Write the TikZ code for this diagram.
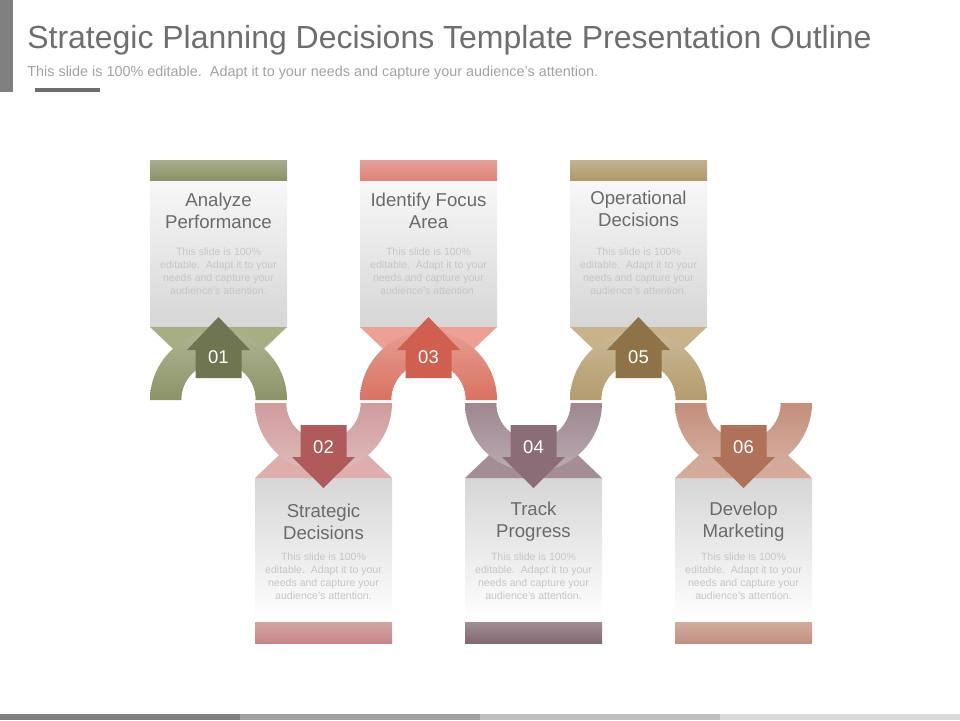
\documentclass[tikz,border=0pt]{standalone}
\usepackage{fontspec}
\setmainfont{Liberation Sans}
\usetikzlibrary{positioning}

\definecolor{titlegray}{HTML}{6E6E6E}
\definecolor{subgray}{HTML}{A2A2A2}
\definecolor{headgray}{HTML}{6A6A6A}
\definecolor{bodygray}{HTML}{C6C6C6}
\definecolor{boxgray}{HTML}{D6D6D6}
% step colours: bar, flap, arch, arrow
\definecolor{olvbar}{HTML}{8A9165}
\definecolor{olvflap}{HTML}{A9AF85}
\definecolor{olvarch}{HTML}{8C9366}
\definecolor{olvarrow}{HTML}{6F7550}
\definecolor{pnkbar}{HTML}{C68687}
\definecolor{pnkflap}{HTML}{DDAEAD}
\definecolor{pnkarch}{HTML}{D09C9C}
\definecolor{pnkarrow}{HTML}{B05B5B}
\definecolor{salbar}{HTML}{DE8276}
\definecolor{salflap}{HTML}{EDA194}
\definecolor{salarch}{HTML}{DA7262}
\definecolor{salarrow}{HTML}{CF604F}
\definecolor{mvebar}{HTML}{836872}
\definecolor{mveflap}{HTML}{A48D95}
\definecolor{mvearch}{HTML}{9E8790}
\definecolor{mvearrow}{HTML}{8A6D77}
\definecolor{tanbar}{HTML}{AE976A}
\definecolor{tanflap}{HTML}{C8B38C}
\definecolor{tanarch}{HTML}{B39B6B}
\definecolor{tanarrow}{HTML}{8D7347}
\definecolor{tercbar}{HTML}{C29080}
\definecolor{tercflap}{HTML}{D4AA9A}
\definecolor{tercarch}{HTML}{C38F7B}
\definecolor{tercarrow}{HTML}{AF7158}

\tikzset{
    slidetitle/.style={font=\fontsize{18.2}{20}\selectfont, text=titlegray, inner sep=0pt},
    slidesub/.style={font=\fontsize{8.2}{9}\selectfont, text=subgray, inner sep=0pt},
    heading/.style={font=\fontsize{10.6}{12.6}\selectfont, text=headgray, align=center, inner sep=0pt},
    bodytext/.style={font=\fontsize{6}{7.4}\selectfont, text=bodygray, align=center, inner sep=0pt},
    numlabel/.style={font=\fontsize{10.5}{12}\selectfont, text=white, inner sep=0pt}
}

\begin{document}
\begin{tikzpicture}[x=0.02cm, y=-0.02cm]
    \useasboundingbox (0,0) rectangle (960,720);

    %Title
    \fill[gray] (0,0) rectangle (13,92);
    \node[slidetitle, anchor=base west] (title) at (27,49) {Strategic Planning Decisions Template Presentation Outline};
    \node[slidesub, anchor=base west] (subtitle) at (27,76) {This slide is 100\% editable.\ \ Adapt it to your needs and capture your audience's attention.};
    \draw[titlegray, line width=2.5pt] (35,90) -- (100,90);

    %Upper steps
    \foreach \l/\c/\n/\head/\hy in {150/olv/01/{Analyze\\Performance}/211, 360/sal/03/{Identify Focus\\Area}/210.5, 570/tan/05/{Operational\\Decisions}/208.5}
    {
        \shade[top color=\c bar!75!white, bottom color=\c bar] (\l,160) rectangle (\l+137,181);
        \shade[top color=white!97!black, bottom color=boxgray] (\l,181) rectangle (\l+137,327);
        \shade[top color=\c flap, bottom color=\c flap!85!\c arch] (\l,327) -- (\l+137,327) -- (\l+68.5,392) -- cycle;
        \shade[top color=\c arch!70!white, bottom color=\c arch] (\l,400) arc[start angle=180, end angle=360, radius=68.5]
            -- (\l+105.5,400) arc[start angle=0, end angle=-180, radius=37] -- cycle;
        \fill[white] (\l+31.5,400) arc[start angle=180, end angle=360, radius=37] -- cycle;
        \fill[\c arrow] (\l+68.5,317) -- (\l+100,350) -- (\l+91.5,350) -- (\l+91.5,378)
            -- (\l+45.5,378) -- (\l+45.5,350) -- (\l+37,350) -- cycle;
        \node[numlabel] (num\n) at (\l+68.5,357) {\n};
        \node[heading] (head\n) at (\l+68.5,\hy) {\head};
        \node[bodytext] (body\n) at (\l+68.5,271.5) {This slide is 100\%\\editable.\ \ Adapt it to your\\needs and capture your\\audience's attention.};
    }

    %Lower steps
    \foreach \l/\c/\n/\head in {255/pnk/02/{Strategic\\Decisions}, 465/mve/04/{Track\\Progress}, 675/terc/06/{Develop\\Marketing}}
    {
        \shade[top color=boxgray, bottom color=white] (\l,478) rectangle (\l+137,622);
        \shade[top color=\c bar!75!white, bottom color=\c bar] (\l,622) rectangle (\l+137,643);
        \shade[bottom color=\c flap, top color=\c flap!85!\c arch] (\l,478) -- (\l+137,478) -- (\l+68.5,413) -- cycle;
        \shade[top color=\c arch, bottom color=\c arch!70!white] (\l,403) arc[start angle=180, end angle=0, radius=68.5]
            -- (\l+105.5,403) arc[start angle=0, end angle=180, radius=37] -- cycle;
        \fill[white] (\l+31.5,403) arc[start angle=180, end angle=0, radius=37] -- cycle;
        \fill[\c arrow] (\l+68.5,488) -- (\l+100,457) -- (\l+91.5,457) -- (\l+91.5,425)
            -- (\l+45.5,425) -- (\l+45.5,457) -- (\l+37,457) -- cycle;
        \node[numlabel] (num\n) at (\l+68.5,447) {\n};
        \node[heading] (head\n) at (\l+68.5,521.5) {\head};
        \node[bodytext] (body\n) at (\l+68.5,576.5) {This slide is 100\%\\editable.\ \ Adapt it to your\\needs and capture your\\audience's attention.};
    }

    %Footer bar
    \foreach \x/\shadeval in {0/50, 240/37, 480/25, 720/15}
    \fill[black!\shadeval!white] (\x,714) rectangle +(240,6);

\end{tikzpicture}
\end{document}
